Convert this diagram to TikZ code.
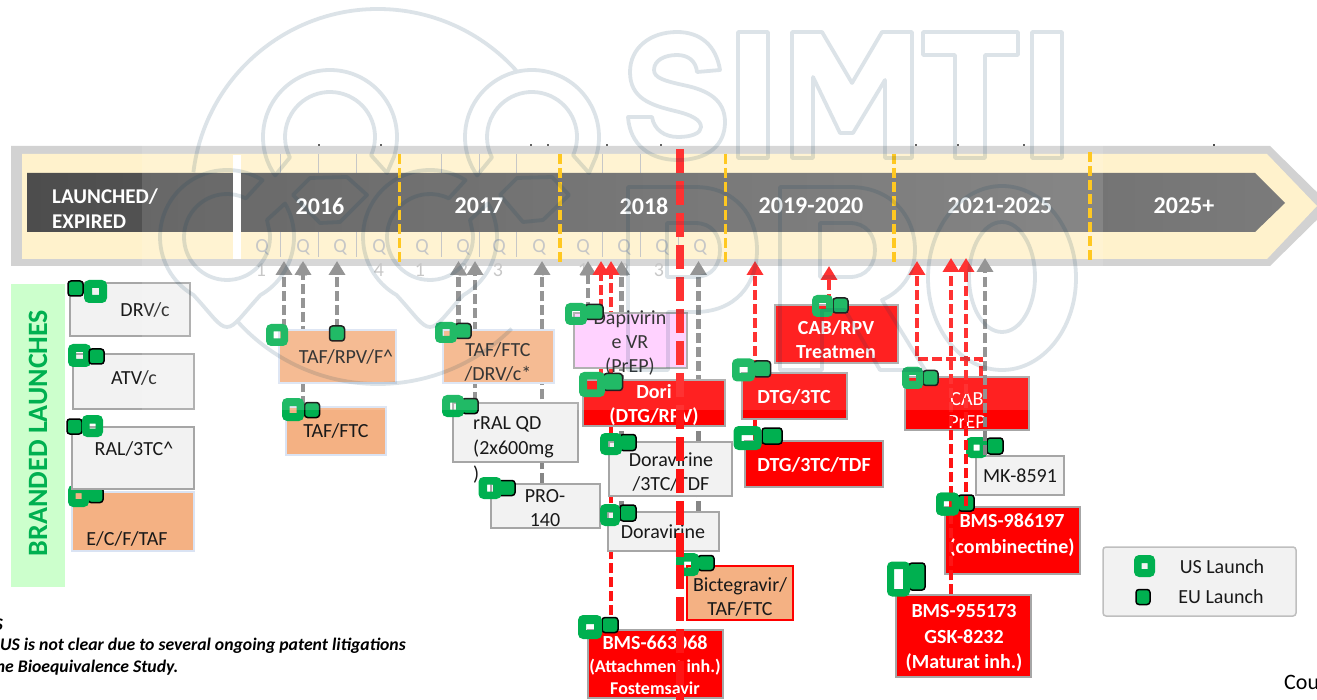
\documentclass[tikz,border=0pt]{standalone}
\usepackage{fontspec}
\setmainfont{Carlito}
\usetikzlibrary{arrows.meta}
\definecolor{usg}{HTML}{00B050}
\definecolor{boxg}{HTML}{F2F2F2}
\definecolor{edgeg}{HTML}{A6A6A6}
\definecolor{orng}{HTML}{F4B183}
\definecolor{paleblue}{HTML}{DAE3F3}
\definecolor{arrowg}{HTML}{868686}
\definecolor{arrowr}{HTML}{FF1414}
\definecolor{goldd}{HTML}{FFC000}
\definecolor{qgray}{HTML}{BFBFBF}
\definecolor{wmc}{RGB}{10,60,90}
\pgfdeclarelayer{lines}
\pgfdeclarelayer{over}
\pgfsetlayers{lines,main,over}
\tikzset{
  graybox/.style={draw=edgeg,line width=1.5pt,fill=boxg,inner sep=0pt},
  orbox/.style={draw=paleblue,line width=1.5pt,fill=orng,inner sep=0pt},
  orredbox/.style={draw=red,line width=1.5pt,fill=orng,inner sep=0pt},
  redbox/.style={draw=edgeg,line width=1.5pt,fill=red,inner sep=0pt},
  pinkbox/.style={draw=edgeg,line width=1.5pt,fill={rgb,255:red,255;green,204;blue,255},inner sep=0pt},
  legendbox/.style={draw=qgray,line width=1.5pt,fill=boxg,rounded corners=3pt,inner sep=0pt},
  greenband/.style={fill={rgb,255:red,204;green,255;blue,204},inner sep=0pt},
  lbl/.style={inner sep=0pt,align=center,text=black!90,font=\fontsize{20}{24}\selectfont},
  wlbl/.style={inner sep=0pt,align=center,text=white,font=\bfseries\fontsize{20}{24}\selectfont},
  wsmall/.style={inner sep=0pt,align=center,text=white,font=\bfseries\fontsize{18}{22}\selectfont},
  wreg/.style={inner sep=0pt,align=center,text=white,font=\fontsize{20}{23}\selectfont},
  yearlbl/.style={inner sep=0pt,text=white,font=\bfseries\fontsize{24}{26}\selectfont},
  qlbl/.style={inner sep=0pt,text=qgray,font=\fontsize{20}{22}\selectfont},
  notelbl/.style={inner sep=0pt,text=black,font=\bfseries\itshape\fontsize{17.7}{20}\selectfont},
  grayarr/.style={draw=arrowg,line width=4.2pt,dash pattern=on 10pt off 4pt,-{Triangle[width=16pt,length=14pt,fill=arrowg]}},
  redarr/.style={draw=arrowr,line width=4.2pt,dash pattern=on 10pt off 4pt,-{Triangle[width=16pt,length=14pt,fill=arrowr]}},
  goldline/.style={draw=goldd,line width=3.5pt,dash pattern=on 10pt off 4pt},
  bigred/.style={draw=arrowr,line width=8pt,dash pattern=on 24pt off 8pt},
  qtick/.style={draw=qgray,line width=.8pt},
  wmline/.style={draw=wmc,line width=3.8pt,opacity=.14,line join=round},
  usm/.style={fill=usg,even odd rule,rounded corners=5pt},
  eum/.style={fill=usg,draw=black,line width=1.5pt,rounded corners=3pt}
}
\newcommand{\bx}[6]{\node[#1,minimum width={(#5-#3)*1pt},minimum height={(#6-#4)*1pt}] (#2) at ({(#3+#5)/2},{(#4+#6)/2}) {};}
\newcommand{\USm}[6]{\fill[usm] ({#1-#3/2},{#2-#4/2}) rectangle ++(#3,#4) [sharp corners] ({#1-#5/2},{#2-#6/2}) rectangle ++(#5,#6);}
\newcommand{\EUm}[4]{\filldraw[eum] ({#1-#3/2},{#2-#4/2}) rectangle ++(#3,#4);}
\newcommand{\wmtop}[1]{({#1+67*cos(145)},{137+67*sin(145)}) arc[start angle=145,end angle=377,radius=67] -- ({#1+57},173) -- ({#1+45*cos(384)},{137+45*sin(384)}) arc[start angle=384,end angle=153,radius=45] -- cycle}
\newcommand{\wmlow}[1]{({#1+67*cos(302)},{237+67*sin(302)}) arc[start angle=302,end angle=120,radius=67] .. controls ({#1-15},315) and ({#1-8},327) .. ({#1},327) .. controls ({#1+8},327) and ({#1+15},315) .. ({#1+33.5},{237+67*sin(60)}) arc[start angle=60,end angle=-30,radius=67] -- ({#1+40},220) -- ({#1+43*cos(-5)},{237+43*sin(-5)}) arc[start angle=-5,end angle=296,radius=43] -- cycle}
\begin{document}
\begin{tikzpicture}[x=1pt,y=-1pt]
\useasboundingbox (0,0) rectangle (1317,700);
\clip (0,0) rectangle (1317,700);

\begin{pgfonlayer}{lines}
  % timeline arrow
  \fill[color={rgb,255:red,210;green,210;blue,210}] (11,146) -- (1270,146) -- (1331,206) -- (1270,266) -- (11,266) -- cycle;
  \fill[color={rgb,255:red,255;green,242;blue,204}] (22,154) -- (1267,154) -- (1317,206) -- (1267,259) -- (22,259) -- cycle;
  % quarter ticks
  \foreach \qx in {280.5,318,356,441.7,479,516.7,602,640,678} {
    \draw[qtick] (\qx,154) -- (\qx,173);
    \draw[qtick] (\qx,232) -- (\qx,257);
  }
  \shade[left color={rgb,255:red,77;green,77;blue,77},right color={rgb,255:red,123;green,123;blue,123}] (27,173) -- (1255,173) -- (1285,203) -- (1255,232) -- (27,232) -- cycle;
  \fill[white] (233,155) rectangle (241,259);
  % small marks above the arrow
  \foreach \mx in {319,381,531,548,607,661,916,958,1024,1214} {
    \fill[black!70] (\mx-1,144.5) rectangle (\mx+1,146);
  }
  % quarter labels
  \foreach \qx/\qn in {262/Q,303/Q,340/Q,379/Q,422/Q,463/Q,499/Q,539/Q,583/Q,624/Q,662/Q,700/Q} {
    \node[qlbl] at (\qx,247) {\qn};
  }
  \foreach \qx/\qn in {261/1,303/2,379/4,420/1,463/2,498/3,541/4,583/1,624/2,659/3} {
    \node[qlbl] at (\qx,270) {\qn};
  }
  % gold separators
  \draw[goldline] (399.3,154) -- (399.3,262);
  \draw[goldline] (560,154) -- (560,262);
  \draw[goldline] (725.7,154) -- (725.7,262);
  \draw[goldline] (894,154) -- (894,262);
  \draw[goldline] (1090,152) -- (1090,260);
\end{pgfonlayer}

% year labels
\node[inner sep=0pt,align=left,text=white,font=\bfseries\fontsize{21}{25}\selectfont,anchor=west] (launched) at (52,208.5) {LAUNCHED/\\EXPIRED};
\node[yearlbl] (y16) at (320,206) {2016};
\node[yearlbl] (y17) at (479,206) {2017};
\node[yearlbl] (y18) at (644,206) {2018};
\node[yearlbl] (y19) at (811,206) {2019-2020};
\node[yearlbl] (y21) at (1000,206) {2021-2025};
\node[yearlbl] (y25) at (1184,206) {2025+};

% branded launches band
\bx{greenband}{band}{11}{284}{65}{587}
\node[rotate=90,inner sep=0pt,text=usg,font=\bfseries\fontsize{28}{30}\selectfont] (bandt) at (38,433) {BRANDED LAUNCHES};

% left column
\bx{graybox}{drv}{70}{283}{190}{336}
\node[lbl] (drvt) at (145,310) {DRV/c};
\EUm{75.5}{288.5}{15}{15} \USm{95.5}{291.5}{23}{23}{7}{7}
\bx{graybox}{atv}{73}{354}{194}{409}
\node[lbl] (atvt) at (134,378) {ATV/c};
\USm{79.5}{355.5}{23}{23}{7}{7} \EUm{96.5}{356.5}{15}{15}
\bx{orbox}{ecf}{72}{492}{194}{551}
\node[lbl] (ecft) at (127,539) {E/C/F/TAF};
\EUm{95.5}{495}{15}{15} \USm{78.5}{496}{21}{22}{6}{6}
\bx{graybox}{ral}{72}{427}{194}{489}
\node[lbl] (ralt) at (134,449) {RAL/3TC\textasciicircum};
\EUm{74.5}{426.5}{15}{15} \USm{92.5}{426}{21}{22}{6}{5}

% 2016
\bx{orbox}{tafrpv}{279}{330}{396}{383}
\node[lbl] (tafrpvt) at (346,357) {TAF/RPV/F\textasciicircum};
\USm{277}{335}{22}{22}{7}{7} \EUm{337}{333.5}{15}{15}
\bx{orbox}{tafftc}{286}{407}{386}{455}
\node[lbl] (tafftct) at (336,431) {TAF/FTC};
\EUm{312}{410}{15}{15} \USm{293}{409.5}{22}{23}{7}{7}

% 2017
\bx{orbox}{tafdrv}{443}{330}{554}{383}
\node[lbl] (tafdrvt) at (498,362) {TAF/FTC\\/DRV/c*};
\EUm{463}{331}{16}{15} \USm{446}{332.5}{22}{21}{7}{7}
\bx{graybox}{rral}{453}{403}{578}{462}
\node[lbl,align=left,anchor=north west,font=\fontsize{20}{25.5}\selectfont] (rralt) at (473,416) {rRAL QD\\(2x600mg\\)};
\EUm{470}{406}{16}{15} \USm{453}{406}{22}{22}{6}{7}
\bx{graybox}{pro}{491}{484}{600}{528}
\node[lbl] (prot) at (545,508) {PRO-\\140};
\EUm{506}{488}{18}{15} \USm{490}{488}{23}{22}{6}{7}

% 2018
\bx{pinkbox}{dapi}{574}{313}{687}{368}
\node[lbl] (dapit) at (630,343) {Dapivirin\\e VR\\(PrEP)};
\EUm{594}{312}{18}{15} \USm{576}{314}{22}{22}{8}{6}
\bx{redbox}{dori}{583}{380}{725}{426}
\node[wlbl] (dorit) at (654,405) {Dori\\(DTG/RPV)};
\EUm{613}{382}{19}{17} \USm{592}{384.5}{26}{25}{10}{10}
\bx{graybox}{dor3tc}{609}{442}{732}{496}
\node[lbl] (dor3tct) at (671,472) {Doravirine\\/3TC/TDF};
\EUm{628}{442.5}{16}{16} \USm{611}{444}{22}{22}{6}{6}
\bx{graybox}{dor}{608}{512}{719}{551}
\node[lbl] (dort) at (663,532) {Doravirine};
\EUm{628}{513}{16}{16} \USm{610}{515}{20}{22}{6}{6}
\bx{orredbox}{bic}{687}{566}{793}{620}
\node[lbl] (bict) at (740,597) {Bictegravir/\\TAF/FTC};
\EUm{706}{563}{16}{15} \USm{687.5}{564.5}{23}{23}{7}{6}
\bx{redbox}{bmsf}{588}{630}{723}{698}
\node[wlbl] (bmsft) at (655,643) {BMS-663068};
\node[wsmall] (bmsfu) at (655,677) {(Attachment inh.)\\Fostemsavir};
\EUm{610}{625}{16}{15} \USm{590}{627}{24}{24}{8}{6}

% 2019-2020
\bx{redbox}{cabrpv}{775}{305}{898}{363}
\node[wlbl] (cabrpvt) at (836,340) {CAB/RPV\\Treatmen};
\EUm{840.5}{305.5}{15}{15} \USm{822.5}{306}{21}{22}{7}{6}
\bx{redbox}{dtgtc}{742}{373}{847}{419}
\node[wlbl] (dtgtct) at (794,397) {DTG/3TC};
\EUm{762}{369}{17}{16} \USm{743.5}{370}{23}{23}{8}{6}
\bx{redbox}{dtgtdf}{745}{441}{883}{487}
\node[wlbl] (dtgtdft) at (814,465) {DTG/3TC/TDF};
\EUm{772}{436}{20}{16} \USm{747.5}{438}{28}{24}{12}{6}

% 2021-2025
\bx{redbox}{cabprep}{905}{377}{1029}{430}
\node[wreg] (cabprept) at (967,411) {CAB\\PrEP};
\EUm{930.5}{378}{15}{15} \USm{912.5}{378}{21}{22}{7}{6}
\bx{graybox}{mk}{976}{456}{1064}{495}
\node[lbl] (mkt) at (1020,476) {MK-8591};
\EUm{995}{446}{16}{16} \USm{976.5}{447.5}{21}{21}{6}{6}
\bx{redbox}{bmsc}{945}{507}{1080}{574}
\node[wlbl,font=\bfseries\fontsize{20}{26}\selectfont] (bmsct) at (1012,535.5) {BMS-986197\\(combinectine)};
\EUm{966}{503}{16}{16} \USm{947.5}{504}{23}{23}{8}{6}
\bx{redbox}{bmsm}{896}{595}{1031}{677}
\node[wlbl,font=\bfseries\fontsize{20}{25.5}\selectfont] (bmsmt) at (964,638) {BMS-955173\\GSK-8232\\(Maturat inh.)};
\EUm{917}{576.5}{16}{27} \USm{898.5}{579}{23}{35}{9}{20}

% legend
\bx{legendbox}{legend}{1103}{547}{1296}{616}
\USm{1144.5}{566}{21}{22}{6}{6}
\EUm{1143}{597}{14}{15}
\node[lbl] (ust) at (1222,567) {US Launch};
\node[lbl] (eut) at (1221,597) {EU Launch};

% notes
\node[notelbl,anchor=east] (note0) at (3,625) {S};
\node[notelbl,anchor=east] (note1) at (406,646) {US is not clear due to several ongoing patent litigations};
\node[notelbl,anchor=east] (note2) at (178.5,668) {he Bioequivalence Study.};
\node[inner sep=0pt,anchor=west,text=black,font=\fontsize{22}{24}\selectfont] (cou) at (1284,682) {Cou};

% connectors
\coordinate (g1) at (284,261);
\coordinate (g2) at (303,261);
\coordinate (g3) at (337,261);
\coordinate (g4) at (458.5,261);
\coordinate (g5) at (475,261);
\coordinate (g6) at (542,261);
\coordinate (g7) at (588,261);
\coordinate (g8) at (621.5,261);
\coordinate (g9) at (698.5,261);
\coordinate (g10) at (985,258);
\coordinate (r1) at (601,261);
\coordinate (r2) at (611,261);
\coordinate (r3) at (755,261);
\coordinate (r4) at (829,266);
\coordinate (r5) at (917,261);
\coordinate (r5b) at (981,359);
\coordinate (r6) at (951,258);
\coordinate (r7) at (966,258);
\begin{pgfonlayer}{lines}
  \draw[grayarr] (g1 |- tafrpv.north) -- (g1);
  \draw[grayarr] (g2 |- tafftc.north) -- (g2);
  \draw[grayarr] (g3 |- tafrpv.north) -- (g3);
  \draw[grayarr] (g4 |- tafdrv.north) -- (g4);
  \draw[grayarr] (g5 |- rral.north) -- (g5);
  \draw[grayarr] (g6 |- pro.north) -- (g6);
  \draw[grayarr] (g7 |- dapi.north) -- (g7);
  \draw[grayarr] (g8 |- dor.north) -- (g8);
  \draw[grayarr] (g9 |- dor.north) -- (g9);
  \draw[redarr] (r1 |- dori.north) -- (r1);
  \draw[redarr] (r2 |- bmsf.north) -- (r2);
  \draw[redarr] (r3 |- dtgtdf.north) -- (r3);
  \draw[redarr] (r4 |- cabrpv.north) -- (r4);
  \draw[redarr] (r5b |- cabprep.north) -- (r5b) -- (r5 |- r5b) -- (r5);
\end{pgfonlayer}
\begin{pgfonlayer}{over}
  \draw[redarr] (r6 |- bmsm.north) -- (r6);
  \draw[redarr] (r7 |- bmsc.north) -- (r7);
  \draw[grayarr] (g10 |- mk.north) -- (g10);
  \USm{912.5}{378}{21}{22}{7}{6}
  \USm{947.5}{504}{23}{23}{8}{6}
  % heavy dashed line
  \coordinate (bt) at (679.5,149);
  \coordinate (bb) at (679.5,700);
  \draw[bigred] (bt) -- (bb);
  % watermark sheet and logo
  \fill[white,opacity=.13] (142,0) rectangle (1103,410);
  \draw[wmline]
    ({378+186*cos(187)},{195+186*sin(187)}) arc[start angle=187,end angle=318,radius=186]
    ({378+189*cos(138)},{195+189*sin(138)}) arc[start angle=138,end angle=45,radius=189]
    \wmtop{330} \wmtop{532} \wmlow{227} \wmlow{430}
    (293,195) -- (310,178) -- (347,177) -- (367,195) -- (340,222) -- (320,223) -- cycle
    (500,195) -- (517,178) -- (552,177) -- (569,195) -- (543,220) -- (523,222) -- cycle
    % S
    (720,70) .. controls (716,45) and (700,32) .. (677,32) .. controls (650,32) and (630,48) .. (630,72) .. controls (630,98) and (650,105) .. (675,111) .. controls (692,115) and (701,120) .. (701,127) .. controls (701,133) and (692,137) .. (678,137) .. controls (665,137) and (654,130) .. (652,117) -- (628,117) .. controls (630,145) and (650,160) .. (678,160) .. controls (708,160) and (725,145) .. (725,122) .. controls (725,100) and (708,90) .. (683,85) .. controls (665,81) and (654,78) .. (654,70) .. controls (654,60) and (665,55) .. (677,55) .. controls (688,55) and (696,61) .. (697,72) -- cycle
    % I M T I
    (738,32) rectangle (768,158)
    (792,32) -- (822,32) -- (852,83) -- (882,32) -- (912,32) -- (912,158) -- (885,158) -- (885,80) -- (853,133) -- (840,133) -- (813,77) -- (813,158) -- (792,158) -- cycle
    (923,32) -- (1018,32) -- (1018,55) -- (985,55) -- (985,158) -- (955,158) -- (955,55) -- (923,55) -- cycle
    (1032,32) rectangle (1062,158)
    % P
    (628,187) -- (695,187) .. controls (735,187) and (757,215) .. (757,250) .. controls (757,285) and (735,312) .. (695,312) -- (668,312) -- (668,370) -- (628,370) -- cycle
    (667,223) -- (695,223) .. controls (712,223) and (720,235) .. (720,250) .. controls (720,265) and (712,277) .. (695,277) -- (667,277) -- cycle
    % R
    (780,187) -- (850,187) .. controls (890,187) and (915,215) .. (915,250) .. controls (915,275) and (900,292) .. (882,300) -- (925,370) -- (880,370) -- (845,310) -- (822,310) -- (822,370) -- (780,370) -- cycle
    (820,223) -- (850,223) .. controls (866,223) and (875,235) .. (875,250) .. controls (875,265) and (866,277) .. (850,277) -- (820,277) -- cycle
    % O
    (1002,278) ellipse [x radius=74,y radius=92]
    (1002,277) ellipse [x radius=33,y radius=55];
\end{pgfonlayer}
\end{tikzpicture}
\end{document}
